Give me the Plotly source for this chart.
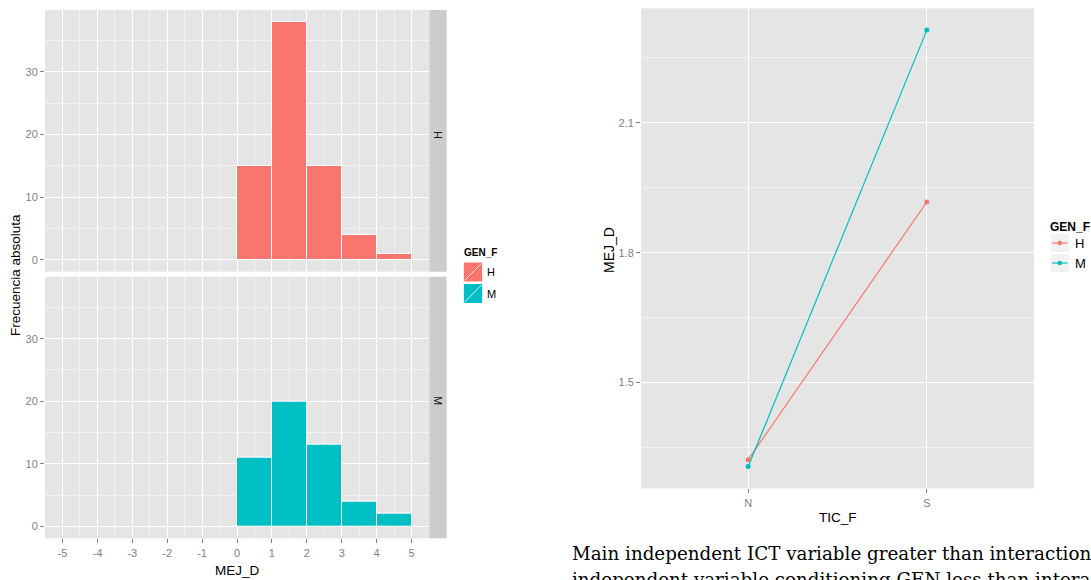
import numpy as np
import plotly.graph_objects as go

W, H = 1091, 580

# ---------------- data ----------------
bin_starts = [0, 1, 2, 3, 4]
bin_width = 1
counts_H = [15, 38, 15, 4, 1]
counts_M = [11, 20, 13, 4, 2]
hist_xticks = [-5, -4, -3, -2, -1, 0, 1, 2, 3, 4, 5]
hist_yticks = [0, 10, 20, 30]
genders = ["H", "M"]
gender_colors = ["#F8766D", "#00BFC4"]

tic_levels = ["N", "S"]
mej_H = [1.322, 1.917]
mej_M = [1.306, 2.314]
line_yticks = [1.5, 1.8, 2.1]

caption_1 = "Main independent ICT variable greater than interaction"
caption_2 = "independent variable conditioning GEN less than interaction"


def fx(p):
    return p / W


def fy(p):
    return 1 - p / H


TICK_COL = "#7F7F7F"
FONT = "Liberation Sans"

fig = go.Figure()

centers = [b + bin_width / 2 for b in bin_starts]
# top facet (H)
fig.add_trace(go.Bar(x=centers, y=counts_H, width=bin_width, xaxis="x2", yaxis="y2",
                     marker=dict(color=gender_colors[0], line=dict(color="white", width=1)),
                     showlegend=False))
# bottom facet (M)
fig.add_trace(go.Bar(x=centers, y=counts_M, width=bin_width, xaxis="x", yaxis="y",
                     marker=dict(color=gender_colors[1], line=dict(color="white", width=1)),
                     showlegend=False))

# right interaction plot
for vals, col in zip([mej_H, mej_M], gender_colors):
    fig.add_trace(go.Scatter(x=tic_levels, y=vals, mode="lines+markers", xaxis="x3", yaxis="y3",
                             line=dict(color=col, width=1.2), marker=dict(color=col, size=5),
                             showlegend=False))

ymax = max(max(counts_H), max(counts_M))
hist_yrange = [-0.05 * ymax, ymax * 1.05]
lo = min(mej_H + mej_M)
hi = max(mej_H + mej_M)
span = hi - lo
line_yrange = [lo - 0.05 * span, hi + 0.05 * span]
minor_line = list(np.array(line_yticks[:-1]) + np.diff(line_yticks) / 2)
minor_line = [line_yticks[0] - 0.15] + minor_line + [line_yticks[-1] + 0.15]

common = dict(showline=False, zeroline=False, gridcolor="white", gridwidth=1.2,
              tickcolor=TICK_COL, ticklen=4, tickwidth=1,
              tickfont=dict(family=FONT, size=11, color=TICK_COL))

xl = dict(common, domain=[fx(45), fx(429)], range=[-5.5, 5.5], tickmode="array",
          tickvals=hist_xticks, ticktext=[str(v) for v in hist_xticks],
          minor=dict(dtick=0.5, tick0=-5, showgrid=True, gridcolor="#F2F2F2", gridwidth=0.6, ticks=""))
fig.update_layout(
    width=W, height=H, autosize=False,
    margin=dict(l=0, r=0, t=0, b=0),
    paper_bgcolor="white", plot_bgcolor="#E5E5E5",
    bargap=0,
    xaxis=dict(xl, anchor="y", ticks="outside"),
    yaxis=dict(common, domain=[fy(538.3), fy(276.7)], range=hist_yrange, anchor="x",
               tickmode="array", tickvals=hist_yticks, ticks="outside",
               minor=dict(dtick=5, tick0=0, showgrid=True, gridcolor="#F2F2F2", gridwidth=0.6, ticks="")),
    xaxis2=dict(xl, anchor="y2", matches="x", showticklabels=False, ticks=""),
    yaxis2=dict(common, domain=[fy(271.7), fy(10)], range=hist_yrange, anchor="x2",
                tickmode="array", tickvals=hist_yticks, ticks="outside",
                minor=dict(dtick=5, tick0=0, showgrid=True, gridcolor="#F2F2F2", gridwidth=0.6, ticks="")),
    xaxis3=dict(common, domain=[fx(641), fx(1034)], anchor="y3", type="category",
                range=[-0.6, 1.6], ticks="outside"),
    yaxis3=dict(common, domain=[fy(488.4), fy(8.3)], anchor="x3", range=line_yrange,
                tickmode="array", tickvals=line_yticks, ticktext=[f"{v:.1f}" for v in line_yticks],
                ticks="outside",
                minor=dict(tickmode="array", tickvals=minor_line, showgrid=True,
                           gridcolor="#F2F2F2", gridwidth=0.8, ticks="")),
)

shapes = []
ann = []


def text(t, x, y, size, xanchor="center", angle=0, family=FONT, color="black"):
    ann.append(dict(text=t, x=fx(x), y=fy(y), xref="paper", yref="paper",
                    xanchor=xanchor, yanchor="middle", showarrow=False, textangle=angle,
                    font=dict(family=family, size=size, color=color)))


# facet strips
for lab, (y0, y1), yc in zip(genders, [(10, 271.7), (276.7, 538.3)], [135, 400]):
    shapes.append(dict(type="rect", xref="paper", yref="paper", x0=fx(429.3), x1=fx(446.7),
                       y0=fy(y1), y1=fy(y0), fillcolor="#CCCCCC", line=dict(width=0), layer="below"))
    text(lab, 438, yc, 11, angle=90, color="#1A1A1A")

# left legend
text("<b>GEN_F</b>", 462, 253, 10, xanchor="left")
for i, (lab, col) in enumerate(zip(genders, gender_colors)):
    y0 = 262 + i * 21.5
    y1 = y0 + 20
    shapes.append(dict(type="rect", xref="paper", yref="paper", x0=fx(463.3), x1=fx(482.7),
                       y0=fy(y1), y1=fy(y0), fillcolor=col, line=dict(color="white", width=1)))
    shapes.append(dict(type="line", xref="paper", yref="paper", x0=fx(464.5), x1=fx(481.5),
                       y0=fy(y1 - 1.5), y1=fy(y0 + 1.5), line=dict(color="white", width=0.8)))
    text(lab, 485, (y0 + y1) / 2, 11, xanchor="left")

# right legend
text("<b>GEN_F</b>", 1048, 227, 12, xanchor="left")
for i, (lab, col) in enumerate(zip(genders, gender_colors)):
    yc = 243 + i * 20
    shapes.append(dict(type="rect", xref="paper", yref="paper", x0=fx(1050), x1=fx(1069.5),
                       y0=fy(yc + 9.5), y1=fy(yc - 9.5), fillcolor="#F2F2F2", line=dict(color="white", width=1)))
    shapes.append(dict(type="line", xref="paper", yref="paper", x0=fx(1052), x1=fx(1067.5),
                       y0=fy(yc), y1=fy(yc), line=dict(color=col, width=1.2)))
    shapes.append(dict(type="circle", xref="paper", yref="paper", x0=fx(1057.5), x1=fx(1062),
                       y0=fy(yc + 2.25), y1=fy(yc - 2.25), fillcolor=col, line=dict(width=0)))
    text(lab, 1073, yc, 13, xanchor="left")

# axis titles
text("Frecuencia absoluta", 15, 275, 13.5, angle=-90)
text("MEJ_D", 237, 570, 13.5)
text("MEJ_D", 609, 250, 14, angle=-90)
text("TIC_F", 838, 517, 13.5)

# caption
text(caption_1, 570, 553, 18.3, xanchor="left", family="DejaVu Serif")
text(caption_2, 570, 579, 18.3, xanchor="left", family="DejaVu Serif")

fig.update_layout(shapes=shapes, annotations=ann)
fig.write_html("out.html")
